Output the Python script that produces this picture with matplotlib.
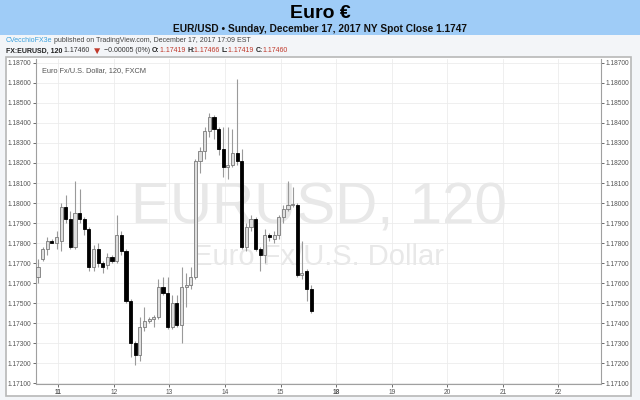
import numpy as np
import matplotlib
matplotlib.use("Agg")
import matplotlib.pyplot as plt
from matplotlib.patches import Rectangle

plt.rcParams['font.family'] = ['Liberation Sans', 'DejaVu Sans']

# 2h candles, EUR/USD
opens = [1.1763, 1.1772, 1.1777, 1.1781, 1.1780, 1.1781, 1.1798, 1.1792, 1.1778, 1.1795,
         1.1792, 1.1787, 1.1768, 1.1777, 1.1770, 1.1769, 1.1773, 1.1771, 1.1784, 1.1776,
         1.1751, 1.1730, 1.1724, 1.1738, 1.1741, 1.1742, 1.1743, 1.1758, 1.1755, 1.1738,
         1.1750, 1.1739, 1.1758, 1.1759, 1.1763, 1.1821, 1.1826, 1.1836, 1.1843, 1.1837,
         1.1827, 1.1818, 1.1819, 1.1825, 1.1821, 1.1778, 1.1788, 1.1792, 1.1777, 1.1774,
         1.1784, 1.1782, 1.1784, 1.1793, 1.1797, 1.1799, 1.1799, 1.1764, 1.1766, 1.1757]
highs = [1.1772, 1.1778, 1.1783, 1.1782, 1.1786, 1.1800, 1.1804, 1.1796, 1.1811, 1.1807,
         1.1793, 1.1788, 1.1779, 1.1780, 1.1771, 1.1775, 1.1774, 1.1794, 1.1786, 1.1777,
         1.1752, 1.1731, 1.1743, 1.1748, 1.1743, 1.1744, 1.1762, 1.1763, 1.1763, 1.1754,
         1.1754, 1.1768, 1.1765, 1.1768, 1.1822, 1.1828, 1.1838, 1.1845, 1.1844, 1.1838,
         1.1838, 1.1838, 1.1837, 1.1862, 1.1827, 1.1790, 1.1794, 1.1793, 1.1778, 1.1787,
         1.1785, 1.1786, 1.1794, 1.1799, 1.1811, 1.1808, 1.1800, 1.1781, 1.1767, 1.1759]
lows = [1.1760, 1.1771, 1.1774, 1.1780, 1.1777, 1.1776, 1.1790, 1.1777, 1.1777, 1.1790,
        1.1784, 1.1766, 1.1766, 1.1768, 1.1765, 1.1767, 1.1770, 1.1770, 1.1774, 1.1750,
        1.1723, 1.1719, 1.1721, 1.1736, 1.1740, 1.1738, 1.1742, 1.1754, 1.1737, 1.1737,
        1.1738, 1.1730, 1.1748, 1.1757, 1.1762, 1.1815, 1.1822, 1.1833, 1.1832, 1.1824,
        1.1813, 1.1812, 1.1818, 1.1819, 1.1777, 1.1776, 1.1786, 1.1776, 1.1766, 1.1770,
        1.1781, 1.1780, 1.1782, 1.1790, 1.1796, 1.1798, 1.1763, 1.1762, 1.1751, 1.1745]
closes = [1.1768, 1.1777, 1.1781, 1.1780, 1.1783, 1.1798, 1.1792, 1.1778, 1.1795, 1.1792,
          1.1787, 1.1768, 1.1777, 1.1770, 1.1768, 1.1773, 1.1771, 1.1784, 1.1776, 1.1751,
          1.1730, 1.1724, 1.1738, 1.1741, 1.1742, 1.1743, 1.1758, 1.1755, 1.1738, 1.1750,
          1.1739, 1.1758, 1.1759, 1.1763, 1.1821, 1.1826, 1.1836, 1.1843, 1.1837, 1.1827,
          1.1818, 1.1819, 1.1825, 1.1821, 1.1778, 1.1788, 1.1792, 1.1777, 1.1774, 1.1784,
          1.1783, 1.1784, 1.1793, 1.1797, 1.1799, 1.1799, 1.1764, 1.1765, 1.1757, 1.1746]

day_labels = ["11", "12", "13", "14", "15", "18", "19", "20", "21", "22"]
bold_days = ["11", "18"]
price_ticks = [1.171, 1.172, 1.173, 1.174, 1.175, 1.176, 1.177, 1.178, 1.179,
               1.180, 1.181, 1.182, 1.183, 1.184, 1.185, 1.186, 1.187]

candles_per_day = 12
first_day_offset = 4.4  # candles between first bar and "11" label

fig = plt.figure(figsize=(6.4, 4.0), dpi=100)
fig.patch.set_facecolor('#f3f5f8')

def fx(px):
    return px / 640.0

def fy(py):
    return 1 - py / 400.0

# header band
fig.patches.append(Rectangle((0, fy(35)), 1, fy(0) - fy(35), transform=fig.transFigure,
                             facecolor='#9fccf7', edgecolor='none', zorder=-2))
fig.text(0.5, fy(14), "Euro €", ha='center', va='center', fontsize=14, fontweight='bold')
fig.text(0.5, fy(29), "EUR/USD • Sunday, December 17, 2017 NY Spot Close 1.1747",
         ha='center', va='center', fontsize=7.3, fontweight='bold', color='#111111')

# chart panel frame
fig.patches.append(Rectangle((fx(6), fy(396)), fx(631) - fx(6), fy(57) - fy(396),
                             transform=fig.transFigure, facecolor='white',
                             edgecolor='#b8b8b8', lw=1.2, zorder=-2))

renderer = fig.canvas.get_renderer()

def put_pieces(x, y, pieces, size):
    for s, col, w, k in pieces:
        t = fig.text(x, y, s, color=col, fontsize=size * k, fontweight=w, va='center', ha='left')
        bb = t.get_window_extent(renderer=renderer)
        x += bb.width / fig.bbox.width

put_pieces(fx(6), fy(41), [("CVecchioFX3e", '#3aa0dd', 'normal', 1),
                           (" published on TradingView.com, December 17, 2017 17:09 EST", '#444444', 'normal', 1)], 5.0)
red = '#c0392b'
put_pieces(fx(6), fy(51), [("FX:EURUSD, 120 ", '#222222', 'bold', 1),
                           ("1.17460 ", '#333333', 'normal', 1),
                           ("▼", red, 'normal', 1.5),
                           (" \u22120.00005 (0%) ", '#333333', 'normal', 1),
                           ("O:", '#222222', 'bold', 1), ("1.17419 ", red, 'normal', 1),
                           ("H:", '#222222', 'bold', 1), ("1.17466 ", red, 'normal', 1),
                           ("L:", '#222222', 'bold', 1), ("1.17419 ", red, 'normal', 1),
                           ("C:", '#222222', 'bold', 1), ("1.17460", red, 'normal', 1)], 5.0)

ax = fig.add_axes([fx(36), fy(384), fx(601) - fx(36), fy(59) - fy(384)])
ax.set_facecolor('white')

o = np.array(opens)
h = np.array(highs)
l = np.array(lows)
c = np.array(closes)
x = np.arange(len(o))
up = c >= o

ax.vlines(x, l, h, color='#9a9a9a', lw=0.8, zorder=3)
body_lo = np.minimum(o, c)
body_h = np.maximum(np.abs(c - o), 0.00003)
ax.bar(x[up], body_h[up], bottom=body_lo[up], width=0.68, color='#dedede',
       edgecolor='#7a7a7a', lw=0.6, zorder=4)
ax.bar(x[~up], body_h[~up], bottom=body_lo[~up], width=0.68, color='black',
       edgecolor='black', lw=0.6, zorder=4)

day_pos = first_day_offset + candles_per_day * np.arange(len(day_labels))
ax.set_xticks(day_pos)
ax.set_xticklabels(day_labels)
for t in ax.get_xticklabels():
    t.set_fontweight('bold' if t.get_text() in bold_days else 'normal')
ax.set_xlim(-0.43, 121.6)

ax.set_yticks(price_ticks)
ax.set_yticklabels(["%.5f" % p for p in price_ticks])
ax.set_ylim(1.17097, 1.18719)
ax.tick_params(axis='both', labelsize=4.8, colors='#555555', length=2, width=0.6, pad=1.5)
ax.tick_params(axis='y', left=True, right=True, labelleft=True, labelright=True)
ax.grid(True, color='#ececec', lw=0.6)
ax.set_axisbelow(True)
for sp in ax.spines.values():
    sp.set_color('#a0a0a0')
    sp.set_linewidth(0.8)
ax.spines['top'].set_visible(False)

# watermark
ax.text(0.5, 0.54, "EURUSD, 120", transform=ax.transAxes, ha='center', va='center',
        fontsize=42, color='#e8e8e8', zorder=1)
ax.text(0.5, 0.39, "Euro Fx/U.S. Dollar", transform=ax.transAxes, ha='center', va='center',
        fontsize=21, color='#e8e8e8', zorder=1)
ax.text(0.011, 0.965, "Euro Fx/U.S. Dollar, 120, FXCM", transform=ax.transAxes,
        ha='left', va='center', fontsize=5.3, color='#555555')

fig.savefig("out.png", dpi=100, facecolor=fig.get_facecolor())
